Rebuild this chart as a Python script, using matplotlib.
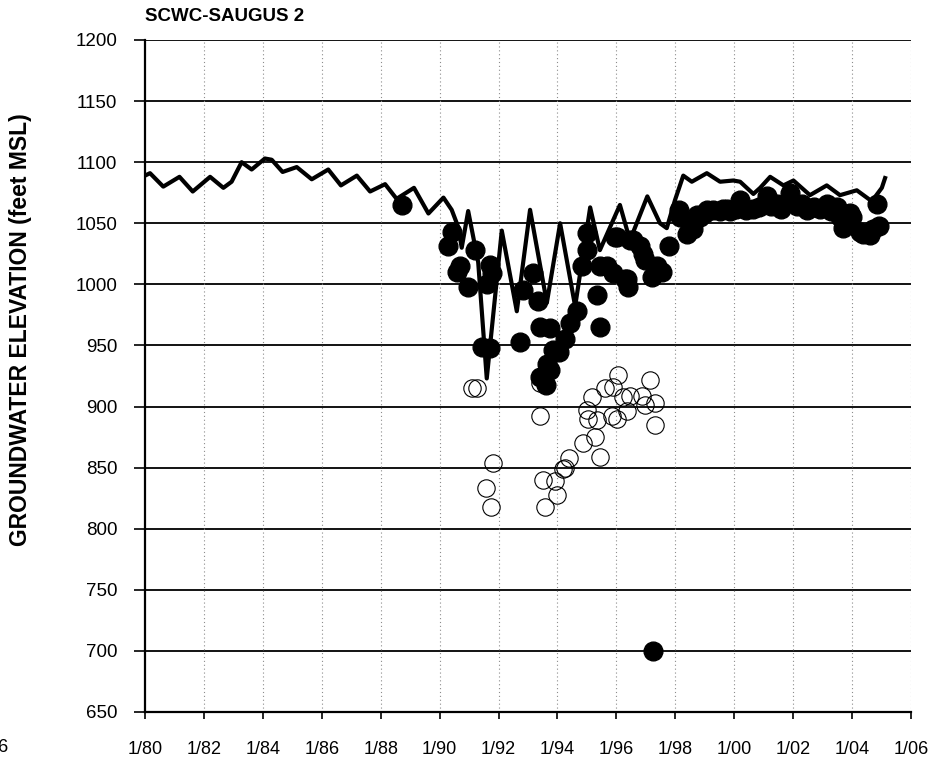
import matplotlib
matplotlib.use("Agg")
import matplotlib.pyplot as plt

plt.rcParams['font.family'] = ['Liberation Sans', 'DejaVu Sans']

# simulated groundwater elevation (decimal year, feet MSL)
sim_year = [1980.0, 1980.17, 1980.62, 1981.17, 1981.62, 1982.21, 1982.66, 1982.94,
            1983.28, 1983.62, 1984.07, 1984.3, 1984.67, 1985.15, 1985.66, 1986.22,
            1986.65, 1987.19, 1987.64, 1988.15, 1988.54, 1989.13, 1989.62, 1990.13,
            1990.41, 1990.63, 1990.75, 1990.97, 1991.31, 1991.6, 1992.11, 1992.62,
            1993.07, 1993.64, 1994.09, 1994.6, 1995.11, 1995.44, 1996.12, 1996.46,
            1997.05, 1997.48, 1997.71, 1997.99, 1998.27, 1998.56, 1999.07, 1999.52,
            1999.97, 2000.2, 2000.65, 2000.88, 2001.22, 2001.67, 2002.01, 2002.57,
            2003.14, 2003.59, 2004.16, 2004.67, 2005.01, 2005.12]
sim_elev = [1089, 1091, 1080, 1088, 1076, 1088, 1079, 1084,
            1100, 1094, 1103, 1102, 1092, 1096, 1086, 1094,
            1081, 1089, 1076, 1082, 1070, 1079, 1058, 1071,
            1061, 1047, 1030, 1060, 1018, 923, 1044, 978,
            1061, 985, 1050, 982, 1063, 1028, 1065, 1036,
            1072, 1050, 1046, 1069, 1089, 1084, 1091, 1084,
            1085, 1084, 1074, 1079, 1088, 1081, 1085, 1073,
            1081, 1073, 1077, 1068, 1079, 1087]

# observed elevations, filled symbols
obs_year = [1988.71, 1990.3, 1990.41, 1990.58, 1990.69, 1990.97, 1991.2, 1991.43,
            1991.6, 1991.71, 1991.71, 1991.77, 1992.73, 1992.84, 1993.18, 1993.35,
            1993.41, 1993.41, 1993.6, 1993.64, 1993.75, 1993.75, 1993.86, 1994.05,
            1994.26, 1994.43, 1994.65, 1994.82, 1994.99, 1994.99, 1995.33, 1995.44,
            1995.44, 1995.67, 1995.9, 1995.95, 1996.01, 1996.29, 1996.35, 1996.4,
            1996.46, 1996.58, 1996.8, 1996.91, 1996.97, 1997.2, 1997.24, 1997.37,
            1997.55, 1997.8, 1998.14, 1998.16, 1998.39, 1998.5, 1998.61, 1998.75,
            1998.84, 1999.0, 1999.07, 1999.29, 1999.5, 1999.63, 1999.75, 1999.85,
            2000.05, 2000.2, 2000.4, 2000.65, 2000.85, 2001.1, 2001.25, 2001.44,
            2001.6, 2001.89, 2002.12, 2002.3, 2002.46, 2002.7, 2002.9, 2003.14,
            2003.3, 2003.5, 2003.59, 2003.7, 2003.93, 2004.0, 2004.27, 2004.37,
            2004.6, 2004.72, 2004.84, 2004.9]
obs_elev = [1065, 1031, 1043, 1010, 1015, 998, 1028, 949,
            1000, 1016, 948, 1009, 953, 995, 1009, 986,
            965, 924, 918, 935, 964, 930, 946, 945,
            955, 968, 978, 1015, 1028, 1042, 991, 965,
            1015, 1015, 1009, 1039, 1039, 1004, 1004, 998,
            1036, 1036, 1031, 1025, 1020, 1006, 700, 1015,
            1010, 1031, 1061, 1055, 1041, 1045, 1045, 1057,
            1055, 1058, 1061, 1061, 1060, 1062, 1062, 1060,
            1062, 1069, 1061, 1062, 1063, 1072, 1064, 1066,
            1062, 1075, 1064, 1066, 1061, 1063, 1062, 1066,
            1060, 1063, 1055, 1046, 1058, 1055, 1043, 1041,
            1040, 1045, 1066, 1048]

# observed elevations, open symbols
obs2_year = [1991.09, 1991.26, 1991.57, 1991.73, 1991.82, 1993.41, 1993.41, 1993.5,
             1993.58, 1993.92, 1994.0, 1994.2, 1994.26, 1994.4, 1994.88, 1994.99,
             1995.05, 1995.16, 1995.27, 1995.33, 1995.44, 1995.61, 1995.84, 1995.9,
             1996.01, 1996.07, 1996.24, 1996.35, 1996.46, 1996.86, 1996.97, 1997.14,
             1997.31, 1997.31]
obs2_elev = [915, 915, 833, 818, 854, 892, 919, 840,
             818, 839, 828, 849, 850, 858, 870, 897,
             890, 908, 875, 889, 859, 915, 892, 916,
             890, 926, 908, 896, 909, 909, 901, 922,
             903, 885]

years = list(range(1980, 2007, 2))
year_labels = ["1/%02d" % (y % 100) for y in years]
elev_ticks = list(range(650, 1201, 50))

fig = plt.figure(figsize=(9.32, 7.69), dpi=100)
ax = fig.add_axes([145 / 932, 1 - 712 / 769, 766 / 932, 672 / 769])

ax.plot(sim_year, sim_elev, color="black", lw=3.0, solid_joinstyle="round", zorder=4)
ax.plot(obs_year, obs_elev, "o", color="black", ms=13.5, zorder=3)
ax.plot(obs2_year, obs2_elev, "o", mfc="none", mec="black", mew=0.8, ms=12.5, zorder=3)

ax.set_xlim(1980, 2006)
ax.set_ylim(650, 1200)
ax.set_xticks(years)
ax.set_xticklabels(year_labels)
ax.set_yticks(elev_ticks)

for y in elev_ticks:
    ax.axhline(y, color="black", lw=1.3, zorder=1)
for x in years[1:]:
    ax.axvline(x, color="#8c8c8c", lw=0.8, ls=(0, (1, 2.5)), zorder=1)

for side in ["top", "right"]:
    ax.spines[side].set_visible(False)
ax.spines["left"].set_linewidth(1.6)
ax.spines["bottom"].set_linewidth(1.6)

ax.tick_params(axis="y", length=8, width=1.2, pad=12, labelsize=13.5)
ax.tick_params(axis="x", length=5, width=1.2, pad=16, labelsize=13)

fig.text(145 / 932, 1 - 21 / 769, "SCWC-SAUGUS 2", fontsize=13.5, fontweight="bold",
         va="baseline")
fig.text(21 / 932, 1 - 330 / 769, "GROUNDWATER ELEVATION (feet MSL)", rotation=90,
         fontsize=16.5, fontweight="bold", ha="center", va="center")
fig.text(9 / 932, 1 - 747 / 769, "1/06", fontsize=13, ha="right", va="center")

fig.savefig("out.png", dpi=100)
